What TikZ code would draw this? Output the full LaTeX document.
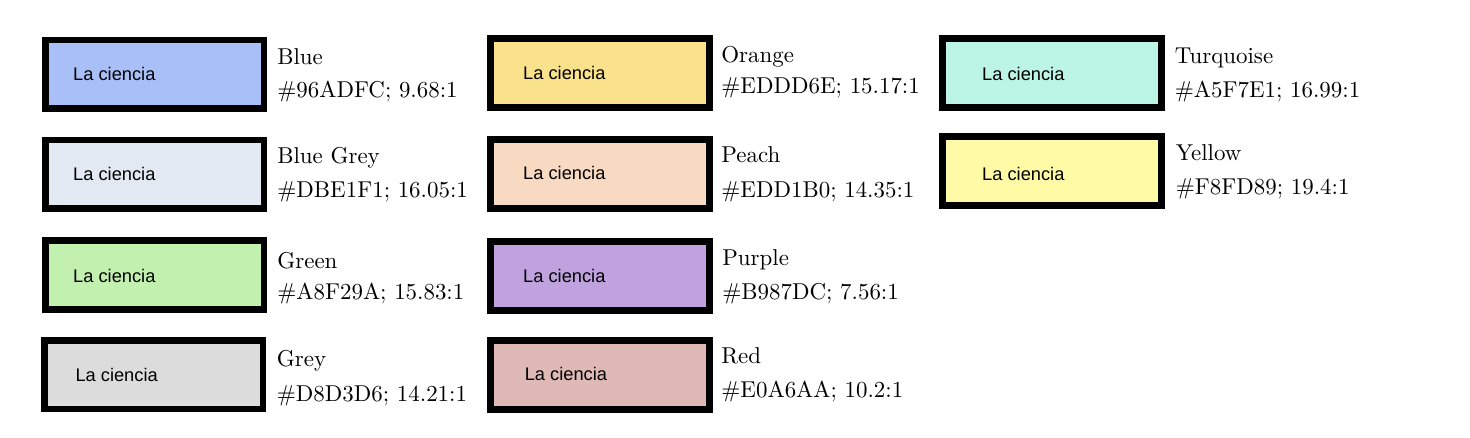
\documentclass[tikz,border=0pt]{standalone}
\usepackage{fontspec}
\newfontfamily\samplefont{Liberation Sans}

\definecolor{blueFill}{HTML}{A9BFF7}
\definecolor{blueGreyFill}{HTML}{E2E9F3}
\definecolor{greenFill}{HTML}{C2F0AE}
\definecolor{greyFill}{HTML}{DCDCDC}
\definecolor{orangeFill}{HTML}{FAE18C}
\definecolor{peachFill}{HTML}{F8D9C2}
\definecolor{purpleFill}{HTML}{C0A2DE}
\definecolor{redFill}{HTML}{DEB9B6}
\definecolor{turquoiseFill}{HTML}{BDF5E4}
\definecolor{yellowFill}{HTML}{FFFAA5}

\tikzset{
	swatch/.style={draw=black, line width=4.9pt, minimum width=163.9pt, minimum height=51.4pt, inner sep=0pt},
	sample/.style={anchor=west, inner sep=0pt, font=\samplefont\fontsize{13.7}{16}\selectfont},
	colname/.style={anchor=base west, inner sep=0pt, scale=1.72}}
\tikzset{every picture/.style={line width=0.75pt}}

\begin{document}
\begin{tikzpicture}[x=0.75pt,y=0.75pt,yscale=-1,xscale=1]
	\useasboundingbox (0,0) rectangle (1470,438);

	%Shape: Rectangle [id:blue] 
	\node [swatch, fill=blueFill] (blue) at (154.5,74.5) {};
	%Shape: Rectangle [id:bluegrey] 
	\node [swatch, fill=blueGreyFill] (bluegrey) at (154.5,174.5) {};
	%Shape: Rectangle [id:green] 
	\node [swatch, fill=greenFill] (green) at (154.5,275) {};
	%Shape: Rectangle [id:grey] 
	\node [swatch, fill=greyFill] (grey) at (153.5,374.5) {};
	%Shape: Rectangle [id:orange] 
	\node [swatch, fill=orangeFill] (orange) at (600,73) {};
	%Shape: Rectangle [id:peach] 
	\node [swatch, fill=peachFill] (peach) at (600,174) {};
	%Shape: Rectangle [id:purple] 
	\node [swatch, fill=purpleFill] (purple) at (600,276) {};
	%Shape: Rectangle [id:red] 
	\node [swatch, fill=redFill] (red) at (600,375) {};
	%Shape: Rectangle [id:turquoise] 
	\node [swatch, fill=turquoiseFill] (turquoise) at (1052,73) {};
	%Shape: Rectangle [id:yellow] 
	\node [swatch, fill=yellowFill] (yellow) at (1052,171) {};

	% Text Node
	\node [sample] (bluetext) at (72.7,74) {La ciencia};
	% Text Node
	\node [sample] (bluegreytext) at (72.7,174) {La ciencia};
	% Text Node
	\node [sample] (greentext) at (72.7,276) {La ciencia};
	% Text Node
	\node [sample] (greytext) at (75,375) {La ciencia};
	% Text Node
	\node [sample] (orangetext) at (522.7,72.5) {La ciencia};
	% Text Node
	\node [sample] (peachtext) at (522.7,173) {La ciencia};
	% Text Node
	\node [sample] (purpletext) at (522.7,276) {La ciencia};
	% Text Node
	\node [sample] (redtext) at (524.3,374) {La ciencia};
	% Text Node
	\node [sample] (turquoisetext) at (981.7,74) {La ciencia};
	% Text Node
	\node [sample] (yellowtext) at (981.7,174) {La ciencia};

	% Text Node
	\node [colname] (bluename) at (276.5,65) {Blue};
	% Text Node
	\node [colname] (bluecode) at (276.5,98) {\#96ADFC; 9.68:1};
	% Text Node
	\node [colname] (bluegreyname) at (276.5,164) {Blue Grey};
	% Text Node
	\node [colname] (bluegreycode) at (276.5,198) {\#DBE1F1; 16.05:1};
	% Text Node
	\node [colname] (greenname) at (276.5,268) {Green};
	% Text Node
	\node [colname] (greencode) at (276.5,300) {\#A8F29A; 15.83:1};
	% Text Node
	\node [colname] (greyname) at (276,366) {Grey};
	% Text Node
	\node [colname] (greycode) at (276,401) {\#D8D3D6; 14.21:1};
	% Text Node
	\node [colname] (orangename) at (720.5,63) {Orange};
	% Text Node
	\node [colname] (orangecode) at (720.5,94) {\#EDDD6E; 15.17:1};
	% Text Node
	\node [colname] (peachname) at (720.5,163) {Peach};
	% Text Node
	\node [colname] (peachcode) at (720.5,198) {\#EDD1B0; 14.35:1};
	% Text Node
	\node [colname] (purplename) at (721.5,266) {Purple};
	% Text Node
	\node [colname] (purplecode) at (721.5,299) {\#B987DC; 7.56:1};
	% Text Node
	\node [colname] (redname) at (720.5,363) {Red};
	% Text Node
	\node [colname] (redcode) at (720.5,397) {\#E0A6AA; 10.2:1};
	% Text Node
	\node [colname] (turquoisename) at (1174,64) {Turquoise};
	% Text Node
	\node [colname] (turquoisecode) at (1174,98) {\#A5F7E1; 16.99:1};
	% Text Node
	\node [colname] (yellowname) at (1175,161) {Yellow};
	% Text Node
	\node [colname] (yellowcode) at (1175,195) {\#F8FD89; 19.4:1};

\end{tikzpicture}
\end{document}
